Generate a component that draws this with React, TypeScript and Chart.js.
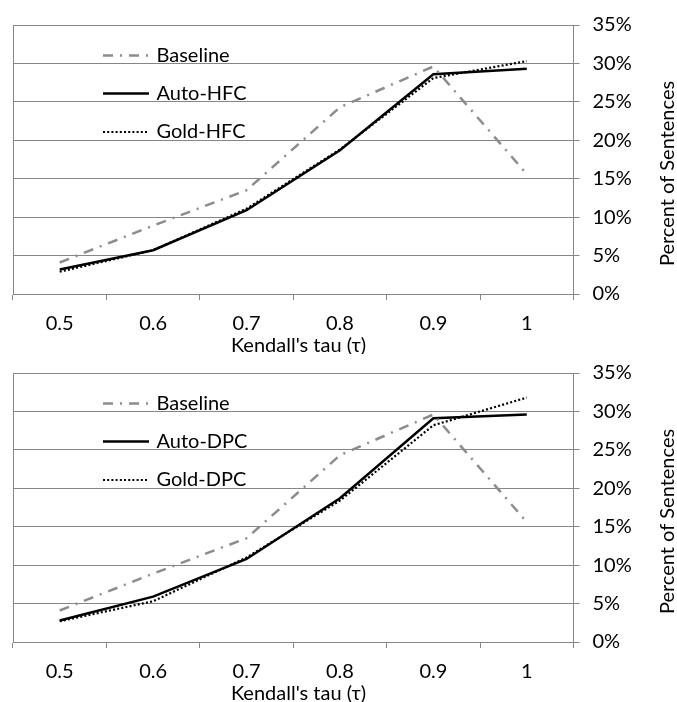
import React, { useEffect, useRef } from 'react';
import { Chart, registerables } from 'chart.js';

Chart.register(...registerables);

// ---- data ----
const categories = ['0.5', '0.6', '0.7', '0.8', '0.9', '1'];
const baseline = [4.1, 8.9, 13.5, 24.3, 29.6, 15.6];
const autoHFC = [3.2, 5.7, 10.9, 18.7, 28.6, 29.3];
const goldHFC = [2.9, 5.7, 11.1, 18.8, 28.1, 30.3];
const autoDPC = [2.8, 5.9, 10.8, 18.7, 29.1, 29.6];
const goldDPC = [2.7, 5.3, 11.0, 18.4, 28.2, 31.8];
const yMin = 0;
const yMax = 35;
const yStep = 5;
const xTitle = "Kendall's tau (τ)";
const yTitle = 'Percent of Sentences';

// ---- style ----
const FONT = 'Lato, "DejaVu Sans", sans-serif';
const FONT_SIZE = 20;
const GRID = '#868686';
const GRAY_LINE = '#8c8c8c';
const W = 677;
const H = 354;

const framePlugin = {
  id: 'frame',
  beforeDatasetsDraw(chart: any) {
    const { ctx, chartArea } = chart;
    ctx.save();
    ctx.strokeStyle = GRID;
    ctx.lineWidth = 1;
    ctx.beginPath();
    ctx.moveTo(Math.round(chartArea.left) + 0.5, chartArea.top);
    ctx.lineTo(Math.round(chartArea.left) + 0.5, chartArea.bottom);
    ctx.stroke();
    ctx.restore();
  },
};

const legendRows = [30.5, 68.5, 107];
const legendPlugin = {
  id: 'inLegend',
  afterDatasetsDraw(chart: any) {
    const { ctx, chartArea } = chart;
    ctx.save();
    chart.data.datasets.forEach((ds: any, i: number) => {
      const y = chartArea.top + legendRows[i];
      const x0 = 103;
      const x1 = 149;
      ctx.strokeStyle = ds.borderColor;
      ctx.lineWidth = ds.borderWidth;
      ctx.setLineDash(ds.borderDash || []);
      ctx.lineCap = 'butt';
      ctx.beginPath();
      ctx.moveTo(x0, y);
      ctx.lineTo(x1, y);
      ctx.stroke();
      ctx.setLineDash([]);
      ctx.fillStyle = '#000';
      ctx.font = `${FONT_SIZE}px ${FONT}`;
      ctx.textAlign = 'left';
      ctx.textBaseline = 'middle';
      ctx.fillText(ds.label, 156.5, y);
    });
    ctx.restore();
  },
};

const titlePlugin = {
  id: 'axisTitles',
  afterDraw(chart: any) {
    const { ctx, chartArea } = chart;
    ctx.save();
    ctx.fillStyle = '#000';
    ctx.font = `${FONT_SIZE}px ${FONT}`;
    ctx.textAlign = 'center';
    ctx.textBaseline = 'middle';
    ctx.fillText(xTitle, 298.5, chartArea.bottom + 52);
    ctx.translate(668, chartArea.top + 148.5);
    ctx.rotate(-Math.PI / 2);
    ctx.fillText(yTitle, 0, 0);
    ctx.restore();
  },
};

function Panel({ top, autoData, goldData, autoLabel, goldLabel }: any) {
  const ref = useRef<HTMLCanvasElement>(null);
  useEffect(() => {
    const chart = new Chart(ref.current as HTMLCanvasElement, {
      type: 'line',
      data: {
        labels: categories,
        datasets: [
          {
            label: 'Baseline',
            data: baseline,
            borderColor: GRAY_LINE,
            borderWidth: 2.5,
            borderDash: [10, 7, 2, 7],
            pointRadius: 0,
            tension: 0,
            fill: false,
          },
          {
            label: autoLabel,
            data: autoData,
            borderColor: '#000',
            borderWidth: 2.5,
            pointRadius: 0,
            tension: 0,
            fill: false,
          },
          {
            label: goldLabel,
            data: goldData,
            borderColor: '#000',
            borderWidth: 2.2,
            borderDash: [2, 2.2],
            pointRadius: 0,
            tension: 0,
            fill: false,
          },
        ],
      },
      options: {
        animation: false,
        responsive: false,
        devicePixelRatio: 1,
        layout: { padding: { left: 13, top: 19, right: 0, bottom: 0 } },
        plugins: {
          legend: { display: false },
          tooltip: { enabled: false },
        },
        scales: {
          x: {
            type: 'category',
            offset: true,
            grid: {
              offset: true,
              drawOnChartArea: false,
              drawTicks: true,
              tickLength: 6,
              color: GRID,
              lineWidth: 1,
            },
            border: { display: true, color: GRID, width: 1 },
            ticks: {
              color: '#000',
              font: { family: FONT, size: FONT_SIZE },
              padding: 11.5,
              maxRotation: 0,
              autoSkip: false,
            },
            afterFit: (scale: any) => {
              scale.height = 60;
            },
          },
          y: {
            position: 'right',
            min: yMin,
            max: yMax,
            grid: {
              color: GRID,
              lineWidth: 1,
              drawTicks: true,
              tickLength: 6,
            },
            border: { display: true, color: GRID, width: 1 },
            ticks: {
              stepSize: yStep,
              color: '#000',
              font: { family: FONT, size: FONT_SIZE },
              padding: 13,
              callback: (v: any) => `${v}%`,
            },
            afterFit: (scale: any) => {
              scale.width = 103.5;
            },
          },
        },
      } as any,
      plugins: [framePlugin, legendPlugin, titlePlugin],
    });
    return () => chart.destroy();
  }, []);
  return (
    <canvas
      ref={ref}
      width={W}
      height={H}
      style={{ position: 'absolute', left: 0, top, width: W, height: H }}
    />
  );
}

export default function App() {
  return (
    <div style={{ position: 'absolute', left: 0, top: 0, width: W, height: 702, background: '#fff' }}>
      <Panel top={0} autoData={autoHFC} goldData={goldHFC} autoLabel="Auto-HFC" goldLabel="Gold-HFC" />
      <Panel top={348} autoData={autoDPC} goldData={goldDPC} autoLabel="Auto-DPC" goldLabel="Gold-DPC" />
    </div>
  );
}
